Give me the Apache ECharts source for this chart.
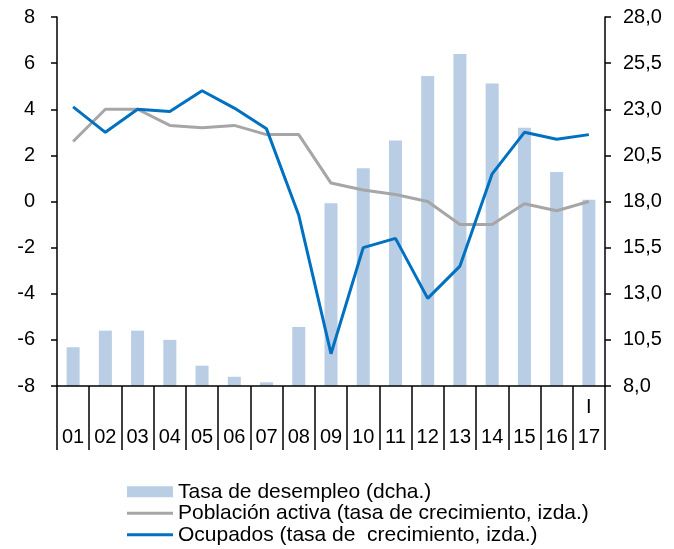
<!DOCTYPE html>
<html>
<head>
<meta charset="utf-8">
<script src="https://cdn.jsdelivr.net/npm/echarts@6/dist/echarts.min.js"></script>
<style>
  html, body { margin: 0; padding: 0; background: #fff; }
  #chart { width: 674px; height: 549px; }
</style>
</head>
<body>
<div id="chart"></div>
<script>
// años (eje X) y marca de trimestre sobre el último
var categories = ['01', '02', '03', '04', '05', '06', '07', '08', '09', '10', '11', '12', '13', '14', '15', '16', '17'];
var catTop = ['', '', '', '', '', '', '', '', '', '', '', '', '', '', '', '', 'I'];

// Tasa de desempleo (dcha.)
var desempleo = [10.1, 11.0, 11.0, 10.5, 9.1, 8.5, 8.2, 11.2, 17.9, 19.8, 21.3, 24.8, 26.0, 24.4, 22.0, 19.6, 18.1];
// Población activa (tasa de crecimiento, izda.)
var activa = [2.6, 4.0, 4.0, 3.3, 3.2, 3.3, 2.9, 2.9, 0.8, 0.5, 0.3, 0.0, -1.0, -1.0, -0.1, -0.4, 0.0];
// Ocupados (tasa de crecimiento, izda.)
var ocupados = [4.1, 3.0, 4.0, 3.9, 4.8, 4.05, 3.15, -0.6, -6.6, -2.0, -1.6, -4.2, -2.8, 1.2, 3.0, 2.7, 2.9];

var nombres = ['Tasa de desempleo (dcha.)', 'Población activa (tasa de crecimiento, izda.)', 'Ocupados (tasa de  crecimiento, izda.)'];

var fontFam = '"Liberation Sans", Arial, sans-serif';
var lineIcon = 'path://M0,0L46,0L46,3L0,3Z';

var myChart = echarts.init(document.getElementById('chart'));
myChart.setOption({
    animation: false,
    textStyle: {fontFamily: fontFam, color: '#000'},
    grid: {left: 57, right: 69, top: 17, bottom: 163, containLabel: false},
    legend: {
        orient: 'vertical',
        left: 127,
        top: 481,
        itemWidth: 46,
        itemHeight: 11,
        itemGap: 0,
        padding: 0,
        textStyle: {fontSize: 21, color: '#000', fontFamily: fontFam, lineHeight: 21.5},
        data: [
            {name: nombres[0], icon: 'rect'},
            {name: nombres[1], icon: lineIcon},
            {name: nombres[2], icon: lineIcon}
        ]
    },
    xAxis: {
        type: 'category',
        data: categories,
        boundaryGap: true,
        z: 5,
        axisLine: {onZero: false, lineStyle: {color: '#000', width: 1.5}},
        axisTick: {show: true, length: 64, interval: 0, lineStyle: {color: '#000', width: 1.5}},
        axisLabel: {
            interval: 0,
            margin: 6,
            fontSize: 20,
            lineHeight: 30,
            color: '#000',
            formatter: function (v, i) { return catTop[i] + '\n' + v; }
        }
    },
    yAxis: [{
        type: 'value',
        position: 'left',
        min: -8,
        max: 8,
        interval: 2,
        splitLine: {show: false},
        axisLine: {show: true, lineStyle: {color: '#000', width: 1.5}},
        axisTick: {show: true, length: 6, lineStyle: {color: '#000', width: 1.5}},
        axisLabel: {margin: 22, fontSize: 20, color: '#000'}
    }, {
        type: 'value',
        position: 'right',
        min: 8,
        max: 28,
        interval: 2.5,
        splitLine: {show: false},
        axisLine: {show: true, lineStyle: {color: '#000', width: 1.5}},
        axisTick: {show: true, length: 6, lineStyle: {color: '#000', width: 1.5}},
        axisLabel: {
            margin: 18,
            fontSize: 20,
            color: '#000',
            formatter: function (v) { return v.toFixed(1).replace('.', ','); }
        }
    }],
    series: [{
        name: nombres[0],
        type: 'bar',
        yAxisIndex: 1,
        barWidth: 13,
        itemStyle: {color: '#b9cde5'},
        data: desempleo
    }, {
        name: nombres[1],
        type: 'line',
        yAxisIndex: 0,
        symbol: 'none',
        lineStyle: {color: '#a6a6a6', width: 3},
        itemStyle: {color: '#a6a6a6'},
        data: activa
    }, {
        name: nombres[2],
        type: 'line',
        yAxisIndex: 0,
        symbol: 'none',
        lineStyle: {color: '#0070c0', width: 3},
        itemStyle: {color: '#0070c0'},
        data: ocupados
    }]
});
</script>
</body>
</html>
